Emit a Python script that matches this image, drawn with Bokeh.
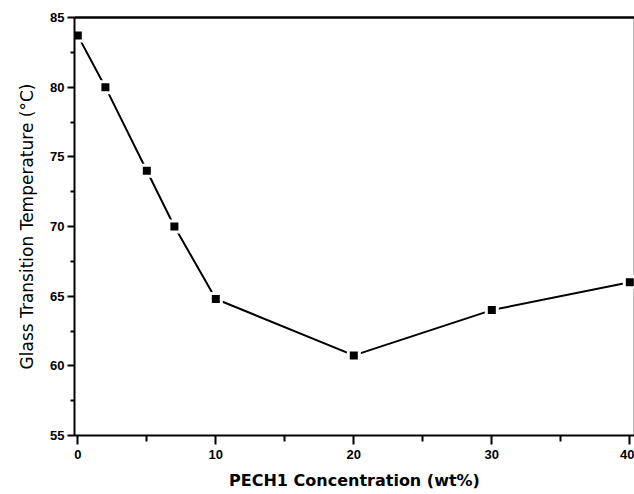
from bokeh.plotting import figure
from bokeh.models import Range1d, LinearAxis, FixedTicker
from bokeh.embed import file_html
from bokeh.resources import INLINE

# data
concentration = [0, 2, 5, 7, 10, 20, 30, 40]
tg = [83.7, 80.0, 74.0, 70.0, 64.8, 60.75, 64.0, 66.0]

x_ticks = [0, 10, 20, 30, 40]
x_minor = [5, 15, 25, 35]
y_ticks = [55, 60, 65, 70, 75, 80, 85]
y_minor = [57.5, 62.5, 67.5, 72.5, 77.5, 82.5]

x_label = "PECH1 Concentration (wt%)"
y_label = "Glass Transition Temperature (°C)"

FONT = "Liberation Sans"
LABEL_FONT = "DejaVu Sans"

p = figure(width=634, height=494, output_backend="svg", toolbar_location=None,
           x_range=Range1d(-0.24, 40.34), y_range=Range1d(55, 85),
           min_border_left=74, min_border_top=17, min_border_right=0,
           min_border_bottom=59)
p.grid.visible = False
p.outline_line_color = "#bbbbbb"
p.outline_line_width = 1
p.background_fill_color = "white"
p.border_fill_color = "white"

p.line(concentration, tg, line_color="black", line_width=2)
p.scatter(concentration, tg, marker="square", size=14, fill_color="white",
          line_color=None)
p.scatter(concentration, tg, marker="square", size=8, fill_color="black",
          line_color=None)

for ax in p.xaxis:
    ax.ticker = FixedTicker(ticks=x_ticks, minor_ticks=x_minor)
    ax.axis_line_width = 2
    ax.major_tick_line_width = 2
    ax.minor_tick_line_width = 2
    ax.major_tick_out = 9
    ax.major_tick_in = 0
    ax.minor_tick_out = 6
    ax.minor_tick_in = 0
    ax.major_label_text_font = FONT
    ax.major_label_text_font_style = "bold"
    ax.major_label_text_font_size = "13px"
    ax.major_label_text_color = "black"
    ax.major_label_standoff = 5
    ax.axis_label = x_label
    ax.axis_label_text_font = LABEL_FONT
    ax.axis_label_text_font_style = "bold"
    ax.axis_label_text_font_size = "16px"
    ax.axis_label_text_color = "black"
    ax.axis_label_standoff = 9

for ax in p.yaxis:
    ax.ticker = FixedTicker(ticks=y_ticks, minor_ticks=y_minor)
    ax.axis_line_width = 2
    ax.major_tick_line_width = 2
    ax.minor_tick_line_width = 2
    ax.major_tick_out = 7
    ax.major_tick_in = 0
    ax.minor_tick_out = 4
    ax.minor_tick_in = 0
    ax.major_label_text_font = FONT
    ax.major_label_text_font_style = "bold"
    ax.major_label_text_font_size = "13px"
    ax.major_label_text_color = "black"
    ax.major_label_standoff = 3
    ax.axis_label = y_label
    ax.axis_label_text_font = LABEL_FONT
    ax.axis_label_text_font_style = "normal"
    ax.axis_label_text_font_size = "17px"
    ax.axis_label_text_color = "black"
    ax.axis_label_standoff = 10

top = LinearAxis(ticker=FixedTicker(ticks=[]), axis_line_width=2.5,
                 major_tick_line_color=None, minor_tick_line_color=None,
                 major_label_text_font_size="0px")
p.add_layout(top, "above")

open("out.html", "w").write(file_html(p, INLINE))
